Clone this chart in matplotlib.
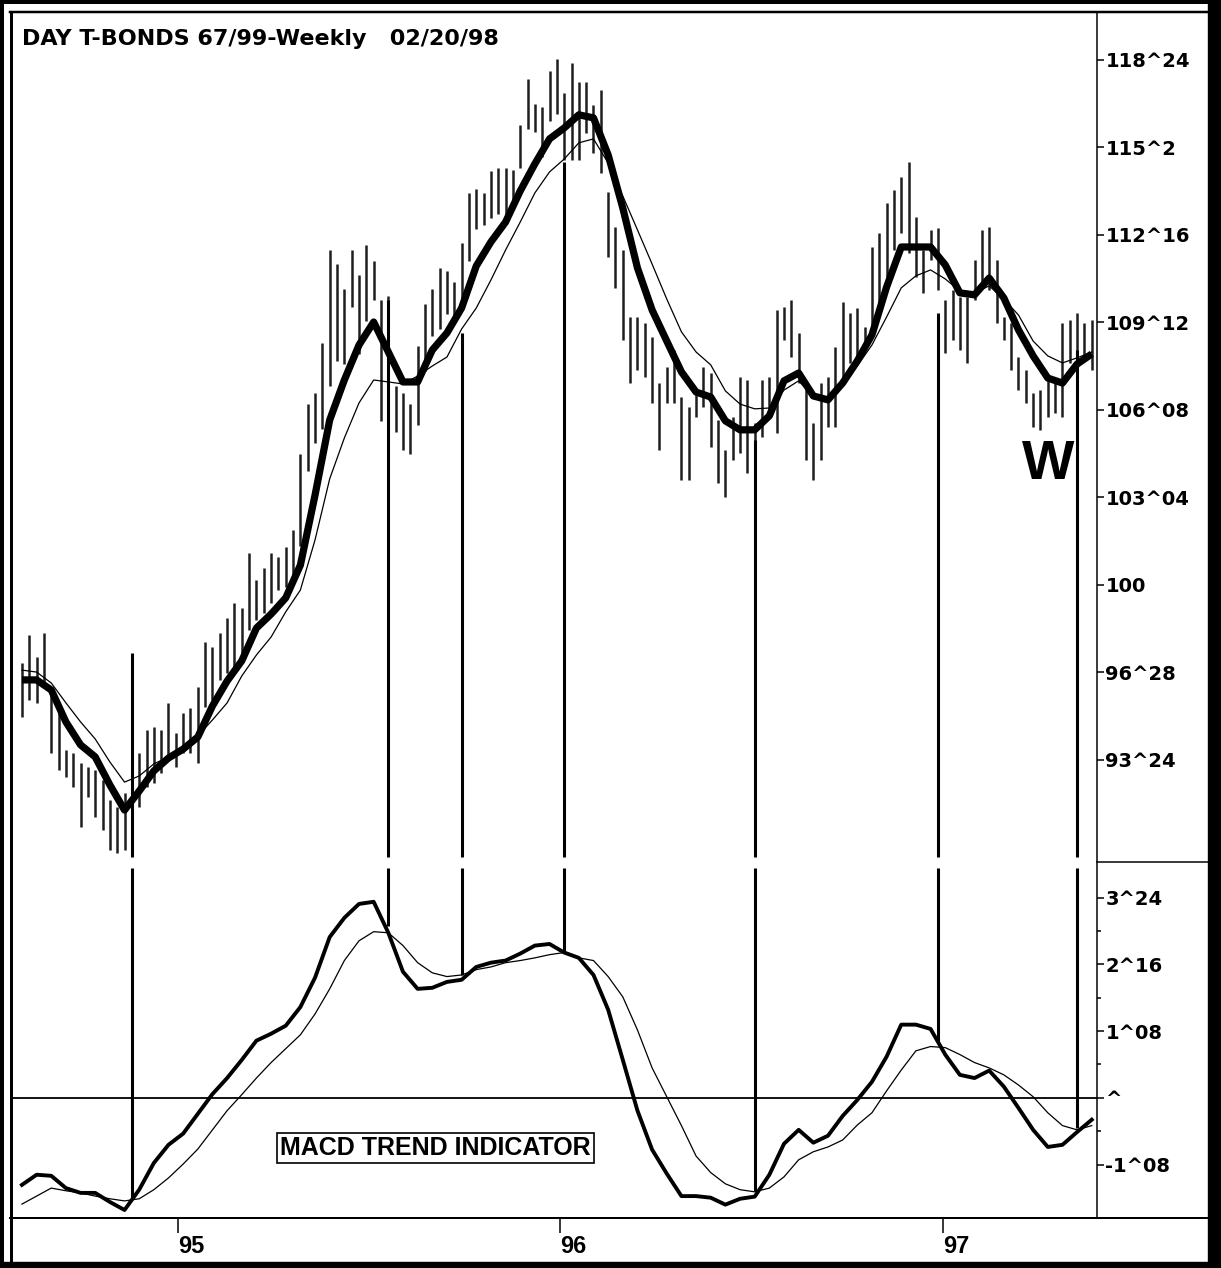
import matplotlib
matplotlib.use('Agg')
import matplotlib.pyplot as plt
from matplotlib.lines import Line2D
from matplotlib.patches import Rectangle
import pandas as pd

# weekly bars, Aug 1994 .. May 1997
weeks = pd.date_range('1994-08-05', periods=147, freq='W-FRI')

highs = [
    97.21, 98.21, 97.43, 98.29, 96.36, 95.43, 94.11, 94.0, 93.64, 93.5,
    93.39, 93.04, 92.32, 92.07, 92.57, 92.21, 94.0, 94.82, 94.93, 94.82,
    95.79, 94.71, 95.43, 95.61, 96.36, 97.96, 97.79, 98.29, 98.82, 99.36,
    99.18, 101.14, 100.18, 100.61, 101.14, 101.0, 101.36, 101.96, 104.68, 106.46,
    106.86, 108.64, 111.96, 111.46, 110.57, 111.96, 111.07, 112.14, 111.57, 110.18,
    110.32, 107.11, 106.86, 106.46, 108.54, 110.04, 110.57, 111.32, 111.21, 110.82,
    112.21, 114.0, 114.14, 114.0, 114.79, 114.89, 114.89, 114.82, 116.43, 118.07,
    117.18, 117.07, 118.36, 118.79, 117.57, 118.64, 117.96, 117.96, 117.14, 117.68,
    114.04, 112.79, 111.96, 109.57, 109.57, 109.36, 108.86, 107.21, 107.79, 108.39,
    106.71, 106.36, 106.96, 107.79, 107.57, 105.89, 104.82, 106.0, 107.43, 107.32,
    105.79, 107.32, 107.43, 109.82, 109.93, 110.18, 109.0, 107.21, 105.79, 107.21,
    107.43, 108.5, 110.11, 109.71, 109.89, 109.21, 112.07, 112.57, 113.64, 114.11,
    114.57, 115.11, 113.14, 111.96, 112.68, 112.75, 110.18, 110.54, 110.29, 110.29,
    111.61, 112.68, 112.79, 111.61, 109.57, 109.36, 108.14, 107.68, 106.86, 106.96,
    107.32, 107.32, 109.36, 109.46, 109.71, 109.36, 109.46,
]
lows = [
    95.29, 95.89, 95.79, 96.36, 94.0, 93.39, 93.14, 92.79, 91.36, 92.43,
    91.71, 91.25, 90.54, 90.43, 90.54, 90.43, 92.07, 92.79, 92.93, 93.29,
    93.75, 93.5, 94.0, 94.0, 93.64, 95.64, 95.89, 96.61, 96.86, 97.07,
    97.57, 98.39, 98.75, 99.0, 99.36, 99.82, 99.93, 100.36, 101.39, 104.07,
    105.07, 105.57, 107.11, 108.0, 107.89, 109.93, 108.25, 109.43, 110.18, 105.86,
    105.86, 105.46, 104.82, 104.68, 105.71, 107.64, 108.89, 109.14, 109.68, 109.43,
    109.93, 111.57, 112.71, 112.86, 113.11, 113.25, 113.11, 113.57, 114.89, 116.29,
    116.18, 115.29, 116.57, 116.82, 115.18, 115.18, 115.18, 116.14, 115.43, 114.71,
    111.71, 110.61, 108.75, 107.21, 107.68, 107.43, 106.5, 104.82, 106.5, 106.5,
    103.75, 103.75, 106.0, 106.36, 104.93, 103.64, 103.14, 104.46, 104.71, 104.0,
    102.79, 105.29, 106.0, 105.43, 108.75, 108.14, 107.21, 104.46, 103.75, 104.46,
    105.64, 105.64, 107.43, 107.93, 108.14, 108.39, 108.86, 109.57, 111.0, 111.96,
    112.57, 111.86, 111.0, 110.43, 111.61, 110.54, 108.29, 108.75, 108.39, 107.93,
    110.18, 110.79, 110.54, 109.36, 108.75, 107.68, 106.96, 106.5, 105.64, 105.54,
    106.0, 106.14, 106.0, 107.93, 108.14, 108.14, 107.68,
]

# moving averages and MACD, read every second week
ma_fast = [
    96.61, 96.61, 96.25, 95.11, 94.29, 93.86, 92.86, 91.96, 92.64, 93.36,
    93.82, 94.14, 94.57, 95.68, 96.57, 97.29, 98.46, 98.96, 99.54, 100.71,
    103.21, 105.89, 107.32, 108.57, 109.39, 108.32, 107.25, 107.25, 108.39, 109.0,
    109.89, 111.39, 112.25, 112.96, 114.07, 115.04, 115.93, 116.32, 116.79, 116.68,
    115.36, 113.46, 111.32, 109.82, 108.71, 107.61, 106.89, 106.71, 105.86, 105.54,
    105.54, 106.04, 107.29, 107.57, 106.75, 106.61, 107.21, 108.0, 108.93, 110.64,
    112.07, 112.07, 112.07, 111.43, 110.43, 110.36, 110.96, 110.25, 109.11, 108.18,
    107.39, 107.21, 107.89, 108.25,
]
ma_slow = [
    96.96, 96.89, 96.5, 95.79, 95.11, 94.5, 93.68, 92.96, 93.18, 93.61,
    93.86, 94.14, 94.61, 95.18, 95.79, 96.75, 97.5, 98.14, 99.04, 99.82,
    101.61, 103.79, 105.25, 106.5, 107.32, 107.25, 107.18, 107.46, 107.82, 108.14,
    109.14, 109.89, 110.89, 111.96, 112.96, 114.0, 114.75, 115.21, 115.79, 115.93,
    115.07, 113.89, 112.68, 111.46, 110.21, 109.04, 108.32, 107.86, 106.93, 106.46,
    106.29, 106.32, 106.96, 107.29, 106.71, 106.61, 107.14, 107.82, 108.57, 109.57,
    110.61, 111.04, 111.25, 110.93, 110.5, 110.43, 110.68, 110.21, 109.64, 108.71,
    108.18, 107.93, 108.11, 108.32,
]
macd_fast = [
    -1.63, -1.44, -1.46, -1.69, -1.78, -1.78, -1.95, -2.10, -1.72, -1.22,
    -0.88, -0.67, -0.30, 0.07, 0.37, 0.71, 1.07, 1.20, 1.35, 1.70,
    2.25, 3.01, 3.37, 3.63, 3.67, 3.09, 2.36, 2.04, 2.06, 2.17,
    2.21, 2.45, 2.53, 2.57, 2.70, 2.85, 2.88, 2.72, 2.62, 2.30,
    1.65, 0.71, -0.24, -0.97, -1.42, -1.84, -1.84, -1.87, -2.00, -1.89,
    -1.85, -1.44, -0.86, -0.60, -0.84, -0.71, -0.34, -0.04, 0.30, 0.77,
    1.37, 1.37, 1.29, 0.81, 0.43, 0.37, 0.51, 0.21, -0.19, -0.60,
    -0.92, -0.88, -0.64, -0.41,
]
macd_slow = [
    -1.99, -1.84, -1.69, -1.74, -1.78, -1.84, -1.89, -1.93, -1.89, -1.72,
    -1.50, -1.24, -0.96, -0.60, -0.24, 0.06, 0.37, 0.66, 0.92, 1.18,
    1.57, 2.04, 2.57, 2.94, 3.11, 3.09, 2.85, 2.53, 2.34, 2.27,
    2.30, 2.40, 2.45, 2.53, 2.57, 2.62, 2.68, 2.72, 2.62, 2.57,
    2.27, 1.89, 1.27, 0.56, 0.02, -0.52, -1.09, -1.40, -1.61, -1.72,
    -1.76, -1.69, -1.48, -1.16, -1.01, -0.92, -0.79, -0.51, -0.28, 0.13,
    0.52, 0.88, 0.96, 0.94, 0.81, 0.66, 0.56, 0.43, 0.24, 0.02,
    -0.28, -0.52, -0.60, -0.52,
]

# vertical marker lines joining price and MACD
mark_weeks = [15, 50, 60, 74, 100, 125, 144]
mark_price = [97.57, 110.18, 109.0, 115.1, 105.18, 109.71, 108.4]
mark_macd = [-1.87, 3.21, 2.29, 2.74, -1.74, 1.06, -0.56]

price_ticks = [118.75, 115.625, 112.5, 109.375, 106.25, 103.125, 100.0, 96.875, 93.75]
price_labels = ['118^24', '115^2', '112^16', '109^12', '106^08', '103^04', '100', '96^28', '93^24']
macd_ticks = [3.75, 2.5, 1.25, 0.0, -1.25]
macd_labels = ['3^24', '2^16', '1^08', '^', '-1^08']
macd_minor = [3.125, 1.875, 0.625, -0.625]
year_ticks = pd.to_datetime(['1995-01-01', '1996-01-01', '1997-01-01'])
year_labels = ['95', '96', '97']

W, H = 1221, 1268


def box(l, t, r, b):
    return [l / W, 1 - b / H, (r - l) / W, (b - t) / H]


def fx(x):
    return x / W


def fy(y):
    return 1 - y / H


plt.rcParams['font.family'] = ['DejaVu Sans']
arial = dict(family='Liberation Sans', fontweight='bold')

fig = plt.figure(figsize=(W / 100, H / 100), dpi=100)
ax_p = fig.add_axes(box(12, 14, 1097, 858))
ax_m = fig.add_axes(box(12, 866, 1097, 1218), sharex=ax_p)

# price panel
ax_p.vlines(weeks, lows, highs, color='#1e1e1e', lw=1.8)
ax_p.plot(weeks[::2], ma_slow, color='black', lw=0.9)
ax_p.plot(weeks[::2], ma_fast, color='black', lw=5.2, solid_capstyle='butt')
ax_p.set_ylim(90.25, 120.39)
ax_p.vlines(weeks[mark_weeks], mark_price, 90.3, color='black', lw=2.2)
ax_p.text(weeks[140], 104.3, 'W', ha='center', va='center', fontsize=40, **arial)

# MACD panel
ax_m.axhline(0, color='black', lw=1.3)
ax_m.plot(weeks[::2], macd_slow, color='black', lw=0.9)
ax_m.plot(weeks[::2], macd_fast, color='black', lw=2.8)
ax_m.set_ylim(-2.25, 4.34)
ax_m.vlines(weeks[mark_weeks], mark_macd, 4.3, color='black', lw=2.2)
ax_m.text(weeks[56] + pd.Timedelta(days=3), -0.94, 'MACD TREND INDICATOR', ha='center', va='center',
          fontsize=18, bbox=dict(boxstyle='square,pad=0.12', facecolor='white', edgecolor='black', lw=1.2),
          **arial)

ax_p.set_xlim(weeks[0] - pd.Timedelta(days=9.5), weeks[0] + pd.Timedelta(days=1027))

for ax in (ax_p, ax_m):
    for s in ax.spines.values():
        s.set_visible(False)
    ax.yaxis.tick_right()

ax_p.set_yticks(price_ticks, price_labels, fontsize=14, fontweight='bold')
ax_p.tick_params(axis='y', direction='out', length=5, width=1.1, pad=1)
ax_p.tick_params(axis='x', bottom=False, labelbottom=False)

ax_m.set_yticks(macd_ticks, macd_labels, fontsize=14, fontweight='bold')
ax_m.set_yticks(macd_minor, minor=True)
ax_m.tick_params(axis='y', which='major', direction='out', length=5, width=1.1, pad=1)
ax_m.tick_params(axis='y', which='minor', direction='out', length=3, width=1.1)

ax_m.set_xticks(year_ticks, year_labels, fontsize=17, ha='left', **arial)
ax_m.tick_params(axis='x', direction='out', length=11, width=1.1, pad=1)

fig.text(fx(22), fy(45), 'DAY T-BONDS 67/99-Weekly   02/20/98', fontsize=16, fontweight='bold',
         va='baseline')

# chart frame
frame = [
    ((0, 1221), (2, 2), 4), ((2, 2), (0, 1268), 4),
    ((10, 1208), (12, 12), 2.5), ((11, 11), (12, 1262), 3),
    ((1097, 1097), (12, 1218), 1.5), ((10, 1208), (1218, 1218), 2),
    ((1097, 1208), (862, 862), 1.5),
]
for xs, ys, w in frame:
    fig.add_artist(Line2D([fx(xs[0]), fx(xs[1])], [fy(ys[0]), fy(ys[1])],
                          color='black', lw=w * 0.72, transform=fig.transFigure))
fig.add_artist(Rectangle((fx(1208), 0), fx(13), 1, color='black', transform=fig.transFigure))
fig.add_artist(Rectangle((0, 0), 1, 6 / H, color='black', transform=fig.transFigure))

fig.savefig('out.png', dpi=100)
